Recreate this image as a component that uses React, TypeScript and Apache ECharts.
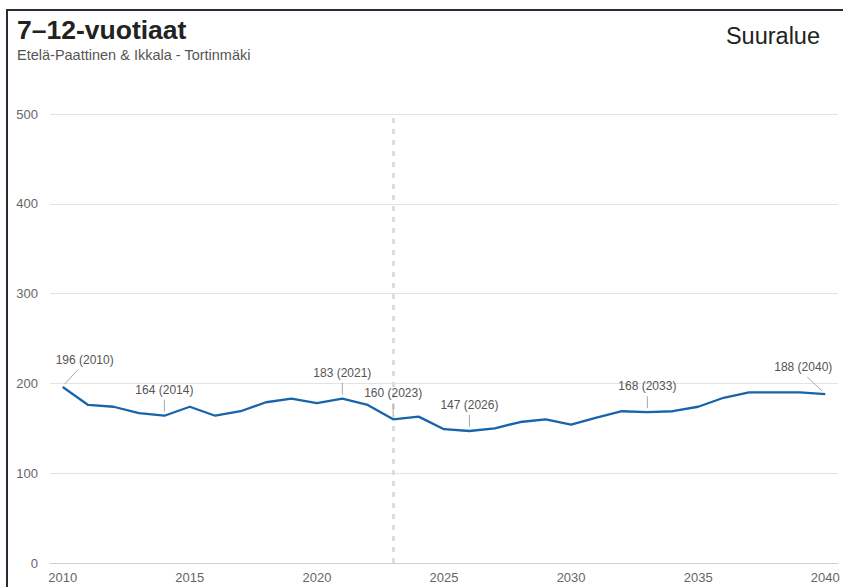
import React, { useEffect, useRef } from "react";
import * as echarts from "echarts";

const years: string[] = [
  "2010","2011","2012","2013","2014","2015","2016","2017","2018","2019",
  "2020","2021","2022","2023","2024","2025","2026","2027","2028","2029",
  "2030","2031","2032","2033","2034","2035","2036","2037","2038","2039","2040",
];
const values: number[] = [
  196, 176, 174, 167, 164, 174, 164, 169, 179, 183,
  178, 183, 176, 160, 163, 149, 147, 150, 157, 160,
  154, 162, 169, 168, 169, 174, 184, 190, 190, 190, 188,
];
// annotated years and the direction of their callouts
const annotatedYears: string[] = ["2010", "2014", "2021", "2023", "2026", "2033", "2040"];
const annotationDirs: string[] = ["right", "up", "up", "up", "up", "up", "left"];
const forecastStartYear = "2023";
const titleText = "7–12-vuotiaat";
const subtitleText = "Etelä-Paattinen & Ikkala - Tortinmäki";
const cornerText = "Suuralue";

const FONT = "'Liberation Sans', Arial, sans-serif";

export default function App() {
  const ref = useRef<HTMLDivElement>(null);

  useEffect(() => {
    if (!ref.current) return;
    const chart = echarts.init(ref.current, null, { renderer: "svg" });

    const annData = annotatedYears.map((y, i) => {
      const idx = years.indexOf(y);
      return [idx, values[idx], i];
    });

    const option: any = {
      animation: false,
      backgroundColor: "#ffffff",
      textStyle: { fontFamily: FONT },
      grid: { left: 50, right: 5, top: 114, bottom: 24, containLabel: false },
      xAxis: {
        type: "category",
        data: years,
        boundaryGap: true,
        axisLine: { show: true, lineStyle: { color: "#cfcfcf", width: 1 } },
        axisTick: { show: false },
        axisLabel: {
          interval: (index: number) => index % 5 === 0,
          color: "#666666",
          fontSize: 13,
          fontFamily: FONT,
          margin: 8,
        },
        splitLine: { show: false },
      },
      yAxis: {
        type: "value",
        min: 0,
        max: 500,
        interval: 100,
        axisLine: { show: false },
        axisTick: { show: false },
        axisLabel: { color: "#666666", fontSize: 13, fontFamily: FONT, margin: 12 },
        splitLine: { show: true, lineStyle: { color: "#e3e3e3", width: 1 } },
      },
      series: [
        {
          type: "line",
          data: values,
          symbol: "none",
          lineStyle: { color: "#1764ab", width: 2.3 },
          z: 3,
          markLine: {
            silent: true,
            symbol: "none",
            label: { show: false },
            lineStyle: { color: "#dedede", width: 3, type: [5, 6] },
            data: [{ xAxis: forecastStartYear }],
            z: 1,
          },
        },
        {
          type: "custom",
          data: annData,
          z: 5,
          clip: false,
          silent: true,
          renderItem: (params: any, api: any) => {
            const idx = api.value(0);
            const val = api.value(1);
            const di = api.value(2);
            const dir = annotationDirs[di];
            const p = api.coord([idx, val]);
            const label = `${val} (${years[idx]})`;
            let x1, y1, x2, y2, tx, ty;
            if (dir === "right") {
              x1 = p[0] + 2; y1 = p[1] - 3; x2 = p[0] + 15; y2 = p[1] - 17;
              tx = p[0] + 22; ty = p[1] - 21;
            } else if (dir === "left") {
              x1 = p[0] - 3; y1 = p[1] - 3; x2 = p[0] - 18; y2 = p[1] - 17;
              tx = p[0] - 22; ty = p[1] - 21;
            } else {
              x1 = p[0]; y1 = p[1] - 4; x2 = p[0]; y2 = p[1] - 16;
              tx = p[0]; ty = p[1] - 20;
            }
            return {
              type: "group",
              children: [
                {
                  type: "line",
                  shape: { x1, y1, x2, y2 },
                  style: { stroke: "#a8a8a8", lineWidth: 1 },
                },
                {
                  type: "text",
                  style: {
                    text: label,
                    x: tx,
                    y: ty,
                    align: "center",
                    verticalAlign: "bottom",
                    fill: "#555555",
                    fontSize: 12,
                    fontFamily: FONT,
                  },
                },
              ],
            };
          },
        },
      ],
      graphic: [
        { type: "rect", shape: { x: 6, y: 9, width: 2, height: 600 }, style: { fill: "#2b2b38" } },
        { type: "rect", shape: { x: 6, y: 9, width: 850, height: 2 }, style: { fill: "#2b2b38" } },
        {
          type: "text",
          x: 17,
          y: 30,
          style: {
            text: titleText,
            fill: "#222222",
            fontSize: 26.5,
            fontWeight: "bold",
            fontFamily: FONT,
            verticalAlign: "middle",
            align: "left",
          },
        },
        {
          type: "text",
          x: 17,
          y: 55,
          style: {
            text: subtitleText,
            fill: "#555555",
            fontSize: 14.5,
            fontFamily: FONT,
            verticalAlign: "middle",
            align: "left",
          },
        },
        {
          type: "text",
          x: 820,
          y: 36,
          style: {
            text: cornerText,
            fill: "#222222",
            fontSize: 23.5,
            fontFamily: FONT,
            verticalAlign: "middle",
            align: "right",
          },
        },
      ],
    };

    chart.setOption(option);
    return () => chart.dispose();
  }, []);

  return (
    <div
      ref={ref}
      style={{ position: "fixed", left: 0, top: 0, width: 843, height: 587 }}
    />
  );
}
